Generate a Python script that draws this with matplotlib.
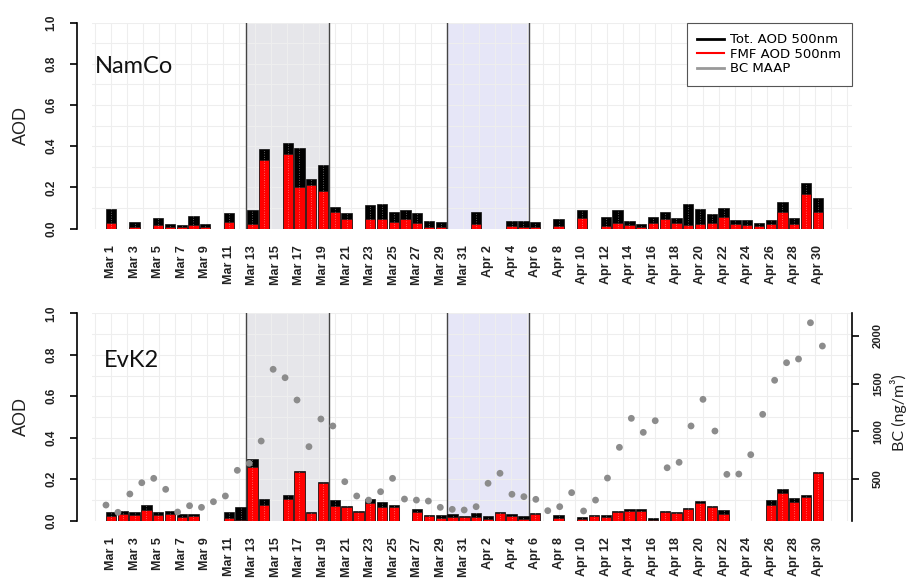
import numpy as np
import matplotlib
matplotlib.use('Agg')
import matplotlib.pyplot as plt
from matplotlib.lines import Line2D

plt.rcParams['font.family'] = ['Liberation Sans', 'DejaVu Sans']

nan = np.nan

days = ['Mar %d' % d for d in range(1, 32)] + ['Apr %d' % d for d in range(1, 31)]

# NamCo AOD 500nm (total and fine mode)
namco_tot = [0.094, nan, 0.032, nan, 0.050, 0.024, 0.018, 0.063, 0.023, nan,
             0.074, nan, 0.091, 0.385, nan, 0.414, 0.393, 0.239, 0.311, 0.104,
             0.074, nan, 0.117, 0.121, 0.081, 0.089, 0.074, 0.037, 0.031, nan,
             nan, 0.083, nan, nan, 0.039, 0.039, 0.031, nan, 0.045, nan,
             0.089, nan, 0.055, 0.089, 0.036, 0.023, 0.055, 0.081, 0.052, 0.120,
             0.097, 0.073, 0.099, 0.044, 0.042, 0.029, 0.042, 0.128, 0.052, 0.220,
             0.150]
namco_fmf = [0.026, nan, 0.010, nan, 0.016, 0.010, 0.010, 0.018, 0.008, nan,
             0.034, nan, 0.021, 0.333, nan, 0.361, 0.204, 0.212, 0.184, 0.079,
             0.047, nan, 0.045, 0.047, 0.034, 0.045, 0.026, 0.010, 0.008, nan,
             nan, 0.021, nan, nan, 0.015, 0.010, 0.008, nan, 0.015, nan,
             0.050, nan, 0.013, 0.026, 0.018, 0.010, 0.026, 0.047, 0.026, 0.018,
             0.021, 0.028, 0.058, 0.021, 0.018, 0.013, 0.023, 0.079, 0.023, 0.167,
             0.079]

# EvK2 AOD 500nm (total and fine mode)
evk2_tot = [0.040, 0.048, 0.040, 0.077, 0.040, 0.047, 0.034, 0.031, nan, nan,
            0.043, 0.068, 0.299, 0.106, nan, 0.122, 0.241, 0.040, 0.185, 0.100,
            0.071, 0.048, 0.105, 0.088, 0.076, nan, 0.056, 0.027, 0.027, 0.031,
            0.023, 0.035, 0.024, 0.042, 0.031, 0.024, 0.035, nan, 0.027, nan,
            0.019, 0.027, 0.027, 0.048, 0.055, 0.055, 0.011, 0.047, 0.042, 0.061,
            0.093, 0.071, 0.051, nan, nan, nan, 0.098, 0.151, 0.108, 0.124,
            0.233]
evk2_fmf = [0.023, 0.032, 0.027, 0.051, 0.027, 0.031, 0.016, 0.023, nan, nan,
            0.011, 0.003, 0.257, 0.076, nan, 0.103, 0.236, 0.035, 0.180, 0.072,
            0.064, 0.040, 0.084, 0.064, 0.068, nan, 0.040, 0.023, 0.011, 0.016,
            0.019, 0.016, 0.008, 0.035, 0.024, 0.010, 0.032, nan, 0.011, nan,
            0.008, 0.022, 0.019, 0.043, 0.048, 0.047, 0.005, 0.040, 0.035, 0.056,
            0.084, 0.064, 0.032, nan, nan, nan, 0.076, 0.135, 0.092, 0.116,
            0.228]

# BC MAAP at EvK2 (ng/m3)
evk2_bc = [227, 151, 343, 461, 507, 392, 154, 220, 203, 262,
           322, 591, 664, 898, 1650, 1562, 1328, 839, 1129, 1056,
           472, 322, 279, 367, 507, 290, 279, 269, 203, 182,
           175, 210, 455, 560, 340, 315, 287, 168, 210, 357,
           165, 279, 510, 832, 1136, 989, 1111, 618, 675, 1056,
           1335, 1003, 549, 552, 755, 1178, 1535, 1719, 1758, 2138,
           1894]

# dust events (first and last day index)
events = [(12, 18), (29, 35)]
event_colors = ['#e6e6ea', '#e6e6f7']

W, H = 912, 579


def rect(x0, y0, x1, y1):
    return [x0 / W, 1 - y1 / H, (x1 - x0) / W, (y1 - y0) / H]


def draw_panel(ax, tot, fmf, name, name_xy):
    x = np.arange(len(days))
    tot = np.array(tot)
    fmf = np.array(fmf)
    ax.set_xlim(-1.613, 62.9)
    ax.set_ylim(0, 1)

    for (a, b), c in zip(events, event_colors):
        ax.axvspan(a - 0.5, b + 0.5, color=c, lw=0, zorder=0)
        ax.axvline(a - 0.5, color='#444444', lw=1.0, zorder=1)
        ax.axvline(b + 0.5, color='#444444', lw=1.0, zorder=1)

    # light grid
    for gx in np.arange(-1.384, 63, 1.358):
        ax.axvline(gx, color='#eeeeee', lw=0.8, zorder=0.5)
    for gy in np.arange(0.1, 1.01, 0.1):
        ax.axhline(gy, color='#eeeeee', lw=0.8, zorder=0.5)

    ax.bar(x, tot, width=0.88, color='black', edgecolor='#111111', lw=0.5, zorder=2)
    ax.bar(x, fmf, width=0.88, color='#ff0000', edgecolor='#222222', lw=0.5, zorder=3)
    ok = ~np.isnan(tot)
    ax.vlines(x[ok], 0, tot[ok], colors='white', linestyles=(0, (1, 2.5)),
              lw=0.5, alpha=0.7, zorder=4)

    for s in ['top', 'right', 'bottom']:
        ax.spines[s].set_visible(False)
    ax.spines['left'].set_position(('outward', 11))
    ax.spines['left'].set_bounds(0, 1)
    ax.spines['left'].set_linewidth(1.2)
    ax.set_yticks(np.arange(0, 1.01, 0.2))
    ax.set_yticklabels(['%.1f' % v for v in np.arange(0, 1.01, 0.2)],
                       rotation=90, va='center', fontweight='bold', fontsize=8.5,
                       color='#222222')
    ax.tick_params(axis='y', direction='out', length=5, width=1.2, pad=9)

    ax.set_xticks(x[::2])
    ax.set_xticklabels(days[::2], rotation=90, fontweight='bold', fontsize=9,
                       color='#222222')
    ax.tick_params(axis='x', length=0, pad=12)

    ax.text(name_xy[0], name_xy[1], name, transform=ax.transAxes,
            family=['Lato', 'DejaVu Sans'], fontsize=17, color='#111111')


def plotAOD():
    fig = plt.figure(figsize=(9.12, 5.79), dpi=100)

    ax1 = fig.add_axes(rect(92, 22.7, 852, 228.7))
    draw_panel(ax1, namco_tot, namco_fmf, 'NamCo', (0.004, 0.754))

    handles = [Line2D([], [], color='black', lw=2),
               Line2D([], [], color='#ff0000', lw=1.5),
               Line2D([], [], color='#999999', lw=2)]
    leg = ax1.legend(handles, ['Tot. AOD 500nm', 'FMF AOD 500nm', 'BC MAAP'],
                     loc='upper right', bbox_to_anchor=(1.0, 1.0), borderaxespad=0,
                     prop={'family': 'DejaVu Sans', 'size': 9.5},
                     fancybox=False, framealpha=1, labelspacing=0.12,
                     handlelength=2.0, handletextpad=0.5, borderpad=0.8)
    leg.get_frame().set_edgecolor('#555555')
    leg.get_frame().set_linewidth(0.8)
    leg.set_zorder(10)

    ax2 = fig.add_axes(rect(92, 313.3, 852, 520.7))
    draw_panel(ax2, evk2_tot, evk2_fmf, 'EvK2', (0.015, 0.742))

    # BC on its own overlay axes (right scale)
    ax3 = fig.add_axes(rect(92, 313.3, 852, 520.7))
    ax3.patch.set_visible(False)
    ax3.set_xlim(-1.17, 62.48)
    ax3.set_ylim(63, 2237)
    ax3.scatter(np.arange(len(evk2_bc)), evk2_bc, s=24, color='#8c8c8c',
                edgecolors='none', zorder=5)
    for s in ['top', 'left', 'bottom']:
        ax3.spines[s].set_visible(False)
    ax3.spines['right'].set_linewidth(1.2)
    ax3.set_xticks([])
    ax3.yaxis.tick_right()
    ax3.set_yticks([500, 1000, 1500, 2000])
    ax3.set_yticklabels(['500', '1000', '1500', '2000'], rotation=90, va='center',
                        fontweight='bold', fontsize=8, color='#222222')
    ax3.tick_params(axis='y', direction='out', length=5, width=1.2, pad=10)

    fig.text(21 / W, 1 - 125.7 / H, 'AOD', rotation=90, ha='center', va='center',
             fontsize=13, color='#222222')
    fig.text(21 / W, 1 - 417 / H, 'AOD', rotation=90, ha='center', va='center',
             fontsize=13, color='#222222')
    fig.text(899 / W, 1 - 413 / H, 'BC (ng/m\u00b3)', rotation=90, ha='center',
             va='center', family=['Lato', 'DejaVu Sans'], fontsize=11.5,
             color='#222222')

    fig.savefig('out.png', dpi=100)


def main():
    plotAOD()


if __name__ == '__main__':
    main()
